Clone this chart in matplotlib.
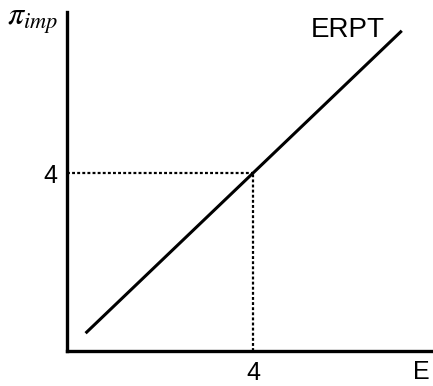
import matplotlib
matplotlib.use("Agg")
import matplotlib.pyplot as plt

plt.rcParams["mathtext.fontset"] = "stix"
plt.rcParams["font.family"] = ["Liberation Sans", "DejaVu Sans"]

# ERPT line (E vs pi_imp) and the marked point
line_x = [0.4, 7.2]
line_y = [0.4, 7.2]
mark_x = 4
mark_y = 4
tick_labels = ["4"]

fig = plt.figure(figsize=(4.33, 3.86), dpi=100)
ax = fig.add_axes([0.1547, 0.0907, 0.843, 0.878])

ax.plot(line_x, line_y, color="black", lw=2.2, solid_capstyle="butt")
ax.plot([0, mark_x], [mark_y, mark_y], color="black", lw=1.6, ls=(0, (1.3, 1.0)))
ax.plot([mark_x, mark_x], [0, mark_y], color="black", lw=1.6, ls=(0, (1.3, 1.0)))

ax.set_xlim(0, 7.85)
ax.set_ylim(0, 7.62)
for s in ["top", "right"]:
    ax.spines[s].set_visible(False)
for s in ["left", "bottom"]:
    ax.spines[s].set_linewidth(2.4)

ax.set_xticks([mark_x], tick_labels)
ax.set_yticks([mark_y], tick_labels)
ax.tick_params(length=0, labelsize=18, pad=7)

ax.text(6.04, 7.21, "ERPT", fontsize=20, ha="center", va="center")
fig.text(0.016, 0.945, r"$\pi_{imp}$", fontsize=23, ha="left", va="center")
fig.text(0.972, 0.037, "E", fontsize=18, ha="center", va="center")

fig.savefig("out.png", dpi=100)
